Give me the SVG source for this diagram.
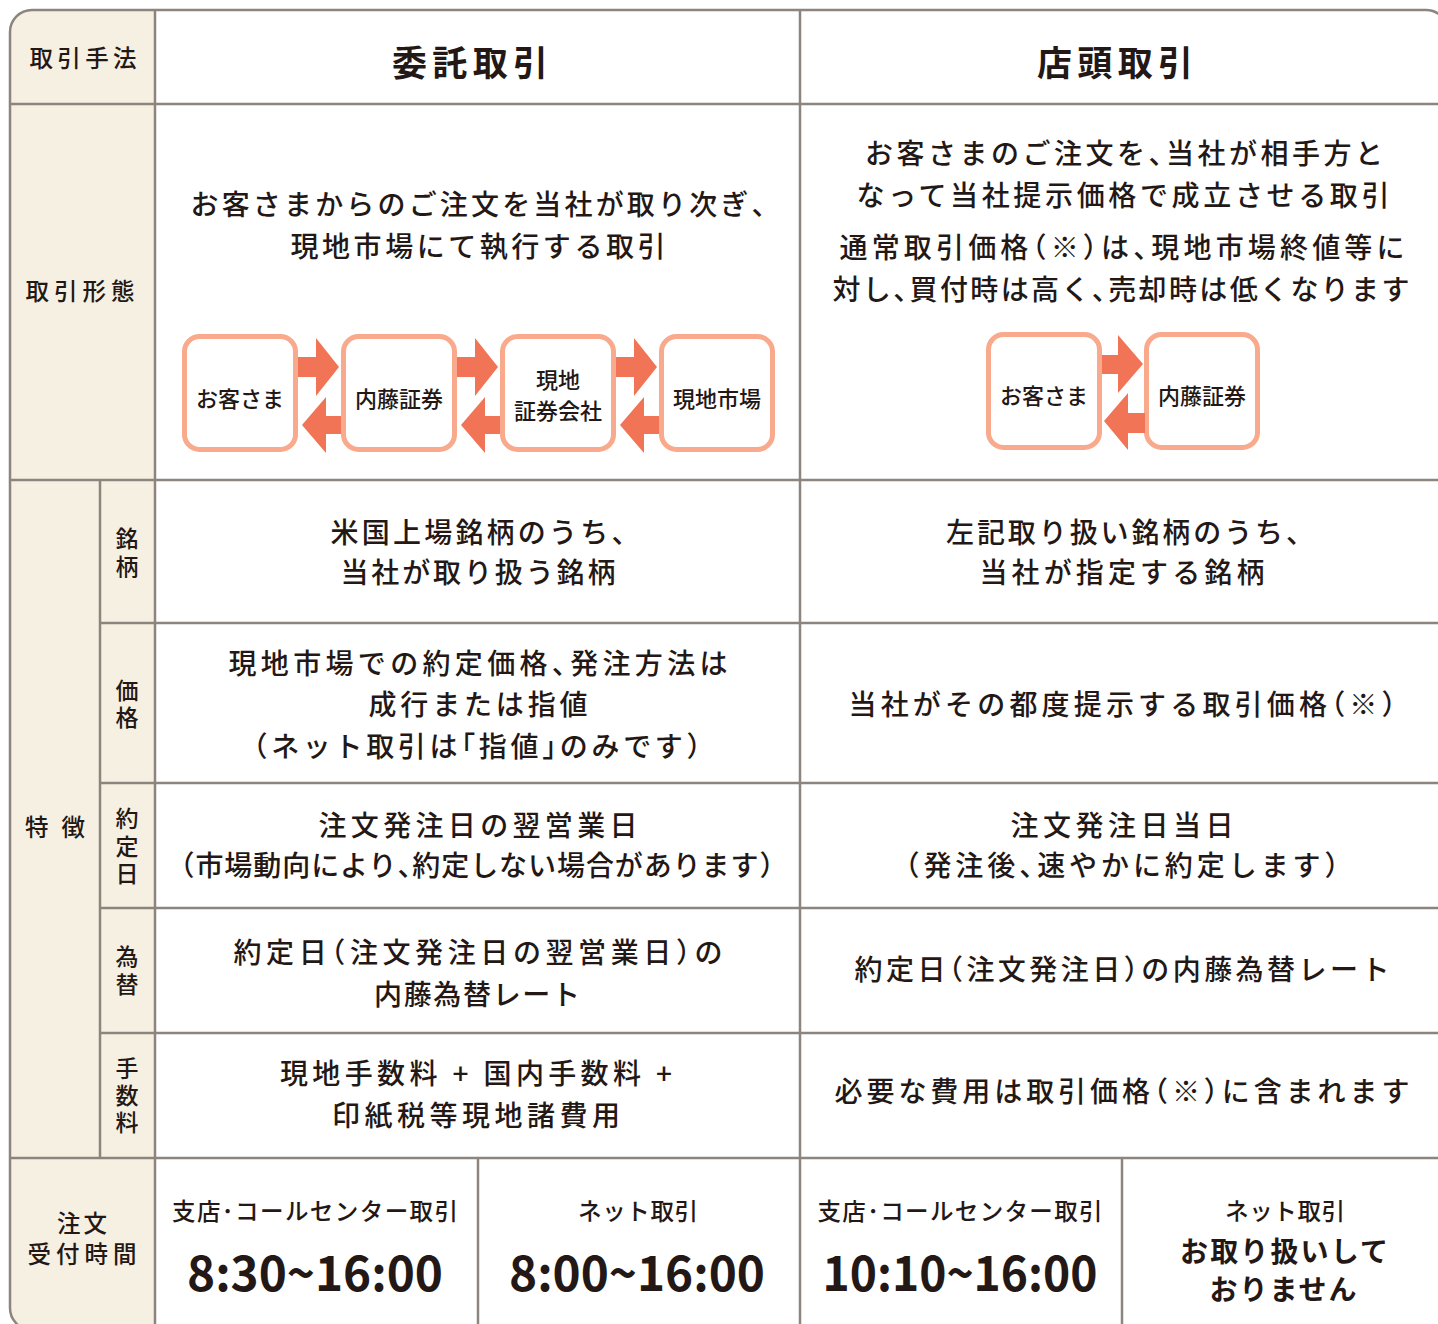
<svg xmlns="http://www.w3.org/2000/svg" width="1438" height="1324" viewBox="0 0 1438 1324">
<style>
.t{font-family:"Noto Sans CJK JP","Noto Sans CJK SC",sans-serif;fill:#231815;font-size:28px;font-weight:500;text-anchor:middle;dominant-baseline:central;}
.p{font-feature-settings:"halt";}
.h{font-size:35px;font-weight:700;}
.lb{font-size:23.5px;}
.sl{font-size:23px;}
.sm{font-size:23.5px;}
.bx{font-size:22px;}
.big{font-size:48px;font-weight:700;}
.bd{font-weight:700;}
.ln{stroke:#8d847e;stroke-width:2.5;fill:none;}
.box{fill:#fff;stroke:#f9a98c;stroke-width:5;}
.arr{fill:#f07455;}
</style>
<rect width="1438" height="1324" fill="#fff"/>
<path d="M155,10 H32 A22,22 0 0 0 10,32 V1308 A22,22 0 0 0 32,1330 H155 Z" fill="#f6f0e3"/>
<g id="grid">
<rect class="ln" x="10" y="10" width="1438" height="1320" rx="22" ry="22"/>
<line class="ln" x1="155" y1="10" x2="155" y2="1330"/>
<line class="ln" x1="800" y1="10" x2="800" y2="1330"/>
<line class="ln" x1="100" y1="480" x2="100" y2="1158"/>
<line class="ln" x1="478" y1="1158" x2="478" y2="1330"/>
<line class="ln" x1="1122" y1="1158" x2="1122" y2="1330"/>
<line class="ln" x1="10" y1="104" x2="1448" y2="104"/>
<line class="ln" x1="10" y1="480" x2="1448" y2="480"/>
<line class="ln" x1="100" y1="623" x2="1448" y2="623"/>
<line class="ln" x1="100" y1="783" x2="1448" y2="783"/>
<line class="ln" x1="100" y1="908" x2="1448" y2="908"/>
<line class="ln" x1="100" y1="1033" x2="1448" y2="1033"/>
<line class="ln" x1="10" y1="1158" x2="1448" y2="1158"/>
</g>

<g id="row-method">
<text class="t lb" x="83" y="57" textLength="107" lengthAdjust="spacing">取引手法</text>
<text class="t h" x="470" y="60" textLength="156" lengthAdjust="spacing">委託取引</text>
<text class="t h" x="1115" y="60" textLength="156" lengthAdjust="spacing">店頭取引</text>
</g>

<g id="row-form">
<text class="t lb" x="80" y="290" textLength="109" lengthAdjust="spacing">取引形態</text>
<text class="t" x="478" y="203" textLength="575" lengthAdjust="spacing">お客さまからのご注文を当社が取り次ぎ<tspan class="p">、</tspan></text>
<text class="t" x="478" y="245" textLength="375" lengthAdjust="spacing">現地市場にて執行する取引</text>
<text class="t" x="1124" y="152" textLength="518" lengthAdjust="spacing">お客さまのご注文を<tspan class="p">、</tspan>当社が相手方と</text>
<text class="t" x="1123" y="194" textLength="533" lengthAdjust="spacing">なって当社提示価格で成立させる取引</text>
<text class="t" x="1122" y="246" textLength="565" lengthAdjust="spacing">通常取引価格<tspan class="p">（</tspan>※<tspan class="p">）</tspan>は<tspan class="p">、</tspan>現地市場終値等に</text>
<text class="t" x="1121" y="288" textLength="577" lengthAdjust="spacing">対し<tspan class="p">、</tspan>買付時は高く<tspan class="p">、</tspan>売却時は低くなります</text>
</g>

<g id="flow-left">
<g id="n-customer-l"><rect class="box" x="184.5" y="336.5" width="111" height="113" rx="15"/><text class="t bx" x="240" y="397">お客さま</text></g>
<g id="n-naito-l"><rect class="box" x="343.5" y="336.5" width="111" height="113" rx="15"/><text class="t bx" x="399" y="397">内藤証券</text></g>
<g id="n-local-broker"><rect class="box" x="502.5" y="336.5" width="111" height="113" rx="15"/><text class="t bx" x="558" y="378">現地</text><text class="t bx" x="558" y="409">証券会社</text></g>
<g id="n-local-market"><rect class="box" x="661.5" y="336.5" width="111" height="113" rx="15"/><text class="t bx" x="717" y="397">現地市場</text></g>
</g>

<g id="flow-right">
<g id="n-customer-r"><rect class="box" x="988.5" y="334.5" width="111" height="113" rx="15"/><text class="t bx" x="1044" y="394">お客さま</text></g>
<g id="n-naito-r"><rect class="box" x="1146.5" y="334.5" width="111" height="113" rx="15"/><text class="t bx" x="1202" y="394">内藤証券</text></g>
</g>

<g id="connectors">
<polygon class="arr" points="298,357 316,357 316,338 339,367 316,396 316,377 298,377"/>
<polygon class="arr" points="457,357 475,357 475,338 498,367 475,396 475,377 457,377"/>
<polygon class="arr" points="616,357 634,357 634,338 657,367 634,396 634,377 616,377"/>
<polygon class="arr" points="341,416 326,416 326,397 302,425 326,453 326,434 341,434"/>
<polygon class="arr" points="500,416 485,416 485,397 461,425 485,453 485,434 500,434"/>
<polygon class="arr" points="659,416 644,416 644,397 620,425 644,453 644,434 659,434"/>
<polygon class="arr" points="1102,355 1118,355 1118,335 1143,364 1118,393 1118,374 1102,374"/>
<polygon class="arr" points="1145,413 1128,413 1128,393 1104,421 1128,450 1128,433 1145,433"/>
</g>

<g id="row-features">
<text class="t lb" x="55" y="826" textLength="60" lengthAdjust="spacing">特徴</text>
</g>

<g id="row-brand">
<text class="t sl" x="127" y="537">銘<tspan x="127" dy="28">柄</tspan></text>
<text class="t" x="478" y="531" textLength="295" lengthAdjust="spacing">米国上場銘柄のうち<tspan class="p">、</tspan></text>
<text class="t" x="478" y="571" textLength="275" lengthAdjust="spacing">当社が取り扱う銘柄</text>
<text class="t" x="1123" y="531" textLength="354" lengthAdjust="spacing">左記取り扱い銘柄のうち<tspan class="p">、</tspan></text>
<text class="t" x="1122" y="571" textLength="285" lengthAdjust="spacing">当社が指定する銘柄</text>
</g>

<g id="row-price">
<text class="t sl" x="127" y="689">価<tspan x="127" dy="27">格</tspan></text>
<text class="t" x="478" y="662" textLength="499" lengthAdjust="spacing">現地市場での約定価格<tspan class="p">、</tspan>発注方法は</text>
<text class="t" x="478" y="703" textLength="219" lengthAdjust="spacing">成行または指値</text>
<text class="t" x="477" y="745" textLength="447" lengthAdjust="spacing"><tspan class="p">（</tspan>ネット取引は<tspan class="p">「</tspan>指値<tspan class="p">」</tspan>のみです<tspan class="p">）</tspan></text>
<text class="t" x="1122" y="703" textLength="547" lengthAdjust="spacing">当社がその都度提示する取引価格<tspan class="p">（</tspan>※<tspan class="p">）</tspan></text>
</g>

<g id="row-settle">
<text class="t sl" x="127" y="817">約<tspan x="127" dy="27.5">定</tspan><tspan x="127" dy="27.5">日</tspan></text>
<text class="t" x="478" y="824" textLength="319" lengthAdjust="spacing">注文発注日の翌営業日</text>
<text class="t" x="477" y="864" textLength="593" lengthAdjust="spacing"><tspan class="p">（</tspan>市場動向により<tspan class="p">、</tspan>約定しない場合があります<tspan class="p">）</tspan></text>
<text class="t" x="1122" y="824" textLength="223" lengthAdjust="spacing">注文発注日当日</text>
<text class="t" x="1122" y="864" textLength="433" lengthAdjust="spacing"><tspan class="p">（</tspan>発注後<tspan class="p">、</tspan>速やかに約定します<tspan class="p">）</tspan></text>
</g>

<g id="row-fx">
<text class="t sl" x="127" y="955">為<tspan x="127" dy="28">替</tspan></text>
<text class="t" x="478" y="951" textLength="489" lengthAdjust="spacing">約定日<tspan class="p">（</tspan>注文発注日の翌営業日<tspan class="p">）</tspan>の</text>
<text class="t" x="477" y="993" textLength="206" lengthAdjust="spacing">内藤為替レート</text>
<text class="t" x="1122" y="968" textLength="535" lengthAdjust="spacing">約定日<tspan class="p">（</tspan>注文発注日<tspan class="p">）</tspan>の内藤為替レート</text>
</g>

<g id="row-fee">
<text class="t sl" x="127" y="1067">手<tspan x="127" dy="27">数</tspan><tspan x="127" dy="27">料</tspan></text>
<text class="t" x="476" y="1072" textLength="392" lengthAdjust="spacing">現地手数料 + 国内手数料 +</text>
<text class="t" x="476" y="1114" textLength="288" lengthAdjust="spacing">印紙税等現地諸費用</text>
<text class="t" x="1122" y="1090" textLength="575" lengthAdjust="spacing">必要な費用は取引価格<tspan class="p">（</tspan>※<tspan class="p">）</tspan>に含まれます</text>
</g>

<g id="row-hours">
<text class="t lb" x="82" y="1222" textLength="50" lengthAdjust="spacing">注文</text>
<text class="t lb" x="82" y="1253" textLength="109" lengthAdjust="spacing">受付時間</text>
<g id="cell-branch-l">
<text class="t sm" x="315" y="1210" textLength="286" lengthAdjust="spacing">支店･コールセンター取引</text>
<text class="t big" x="315" y="1270" textLength="256" lengthAdjust="spacingAndGlyphs">8:30~16:00</text>
</g>
<g id="cell-net-l">
<text class="t sm" x="638" y="1210" textLength="120" lengthAdjust="spacing">ネット取引</text>
<text class="t big" x="637" y="1270" textLength="256" lengthAdjust="spacingAndGlyphs">8:00~16:00</text>
</g>
<g id="cell-branch-r">
<text class="t sm" x="960" y="1210" textLength="285" lengthAdjust="spacing">支店･コールセンター取引</text>
<text class="t big" x="960" y="1270" textLength="275" lengthAdjust="spacingAndGlyphs">10:10~16:00</text>
</g>
<g id="cell-net-r">
<text class="t sm" x="1285" y="1210" textLength="120" lengthAdjust="spacing">ネット取引</text>
<text class="t bd" x="1284" y="1250" textLength="208" lengthAdjust="spacing">お取り扱いして</text>
<text class="t bd" x="1283" y="1288" textLength="147" lengthAdjust="spacing">おりません</text>
</g>
</g>
</svg>
